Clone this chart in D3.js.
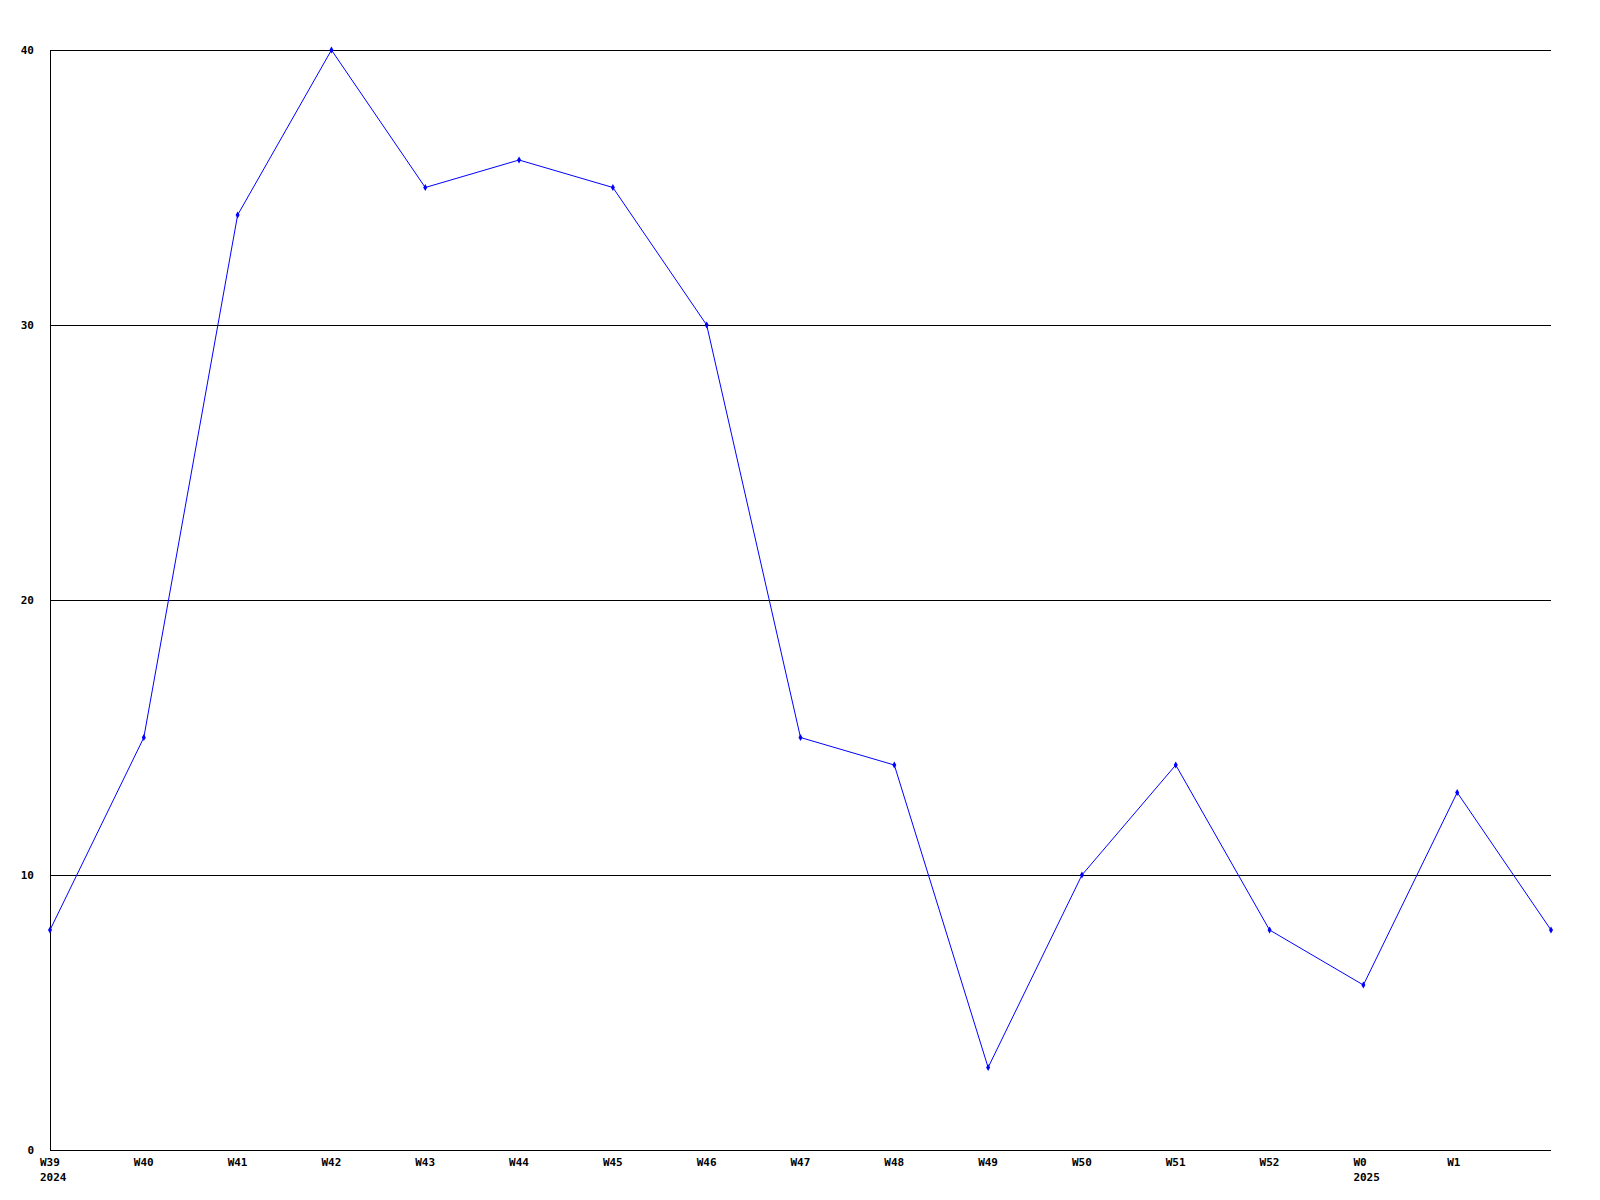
<!DOCTYPE html>
<html><head><meta charset="utf-8">
<script src="https://cdn.jsdelivr.net/npm/d3@7"></script>
<style>body{margin:0;background:#fff}svg{display:block}text{font-family:"DejaVu Sans Mono",monospace;font-weight:bold;font-size:11px;fill:#000}</style>
</head><body>
<script>
const weeks = ["W39","W40","W41","W42","W43","W44","W45","W46","W47","W48","W49","W50","W51","W52","W0","W1",""];
const years = ["2024","","","","","","","","","","","","","","2025","",""];
const values = [8,15,34,40,35,36,35,30,15,14,3,10,14,8,6,13,8];
const yTicks = [0,10,20,30,40];

const W=1600,H=1200, L=50, R=1551, T=50, B=1150;
const svg=d3.select("body").append("svg").attr("width",W).attr("height",H);
const x=d3.scalePoint().domain(d3.range(values.length)).range([L,R]);
const y=d3.scaleLinear().domain([0,40]).range([B,T]);

svg.append("g").selectAll("line").data(yTicks.filter(d=>d>0)).join("line")
  .attr("x1",L).attr("x2",R).attr("y1",d=>Math.round(y(d))+0.5).attr("y2",d=>Math.round(y(d))+0.5)
  .attr("stroke","#000").attr("stroke-width",1);
svg.append("line").attr("x1",L+0.5).attr("x2",L+0.5).attr("y1",T).attr("y2",B+0.5).attr("stroke","#000");
svg.append("line").attr("x1",L).attr("x2",R).attr("y1",B+0.5).attr("y2",B+0.5).attr("stroke","#000");
svg.append("g").selectAll("text").data(yTicks).join("text")
  .attr("x",34).attr("y",d=>y(d)).attr("text-anchor","end").attr("dominant-baseline","central").text(d=>d);
svg.append("g").selectAll("text").data(weeks).join("text")
  .attr("x",(d,i)=>x(i)-10).attr("y",1162).attr("dominant-baseline","central").text(d=>d);
svg.append("g").selectAll("text").data(years).join("text")
  .attr("x",(d,i)=>x(i)-10).attr("y",1177).attr("dominant-baseline","central").text(d=>d);
const line=d3.line().x((d,i)=>x(i)).y(d=>y(d));
svg.append("path").datum(values).attr("d",line).attr("fill","none").attr("stroke","#0000ff").attr("stroke-width",1);
svg.append("g").selectAll("path").data(values).join("path")
  .attr("d",d3.symbol(d3.symbolDiamond,14))
  .attr("transform",(d,i)=>`translate(${x(i)},${y(d)})`).attr("fill","#0000ff");
</script>
</body></html>
